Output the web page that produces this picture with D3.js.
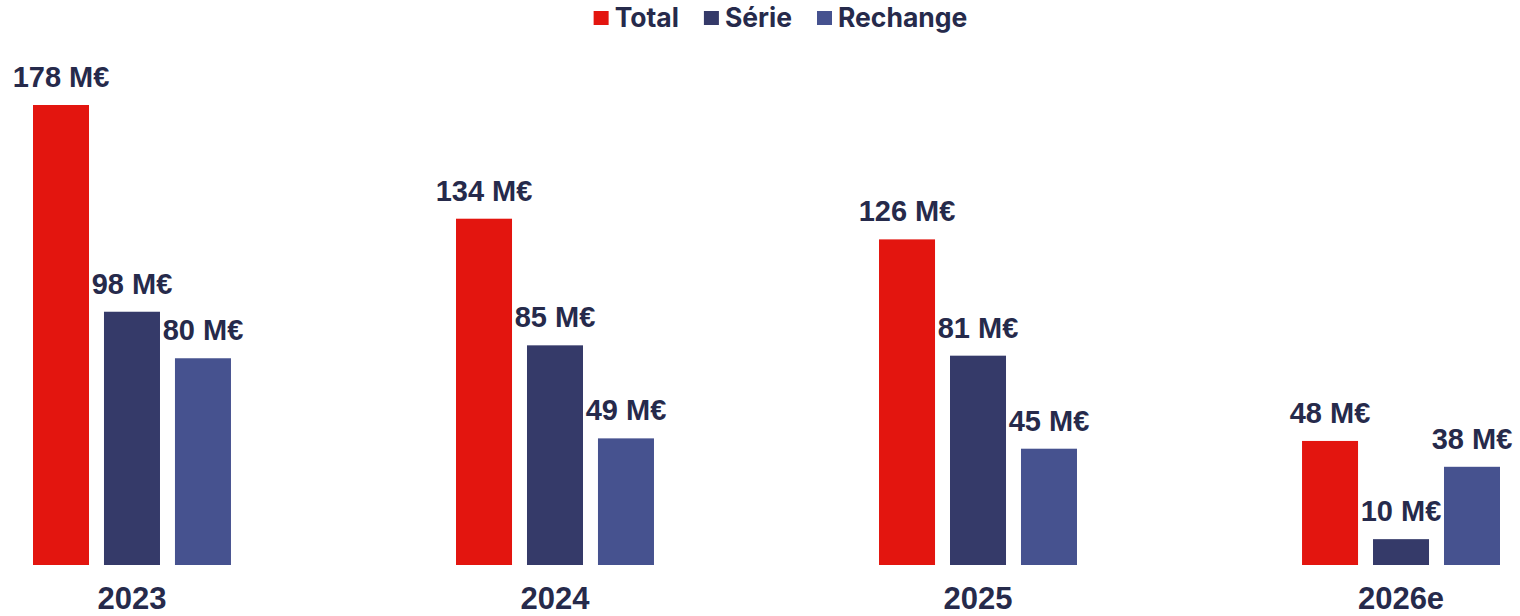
<!DOCTYPE html>
<html>
<head>
<meta charset="utf-8">
<script src="https://cdn.jsdelivr.net/npm/d3@7"></script>
<style>
  body { margin: 0; background: #fff; }
  .val, .year { font-family: "Liberation Sans", Arial, sans-serif; font-weight: 700; fill: #262a4b; }
  .legend text { font-family: Inter, "Open Sans", sans-serif; font-weight: 700; fill: #262a4b; }
</style>
</head>
<body>
<svg id="chart"></svg>
<script>
const years = ["2023", "2024", "2025", "2026e"];
const seriesNames = ["Total", "Série", "Rechange"];
const total = [178, 134, 126, 48];
const serie = [98, 85, 81, 10];
const rechange = [80, 49, 45, 38];
const colors = ["#e3150f", "#353a69", "#46528f"];

const chartSize = {width: 1520, height: 616};

const svg = d3.select("#chart")
  .attr("width", chartSize.width)
  .attr("height", chartSize.height);

const values = [total, serie, rechange];
const rows = years.map((yr, i) => ({
  year: yr,
  bars: seriesNames.map((s, j) => ({key: s, value: values[j][i], color: colors[j]}))
}));

const x0 = d3.scaleBand()
  .domain(years)
  .range([33, 1500])
  .paddingInner(0.532)
  .paddingOuter(0);

const x1 = d3.scaleBand()
  .domain(seriesNames)
  .range([0, x0.bandwidth()])
  .paddingInner(0.211);

const y = d3.scaleLinear()
  .domain([0, 178])
  .range([565, 105]);

const groups = svg.selectAll(".grp")
  .data(rows)
  .join("g")
  .attr("class", "grp")
  .attr("transform", d => `translate(${x0(d.year)},0)`);

groups.selectAll("rect")
  .data(d => d.bars)
  .join("rect")
  .attr("x", b => x1(b.key))
  .attr("y", b => y(b.value))
  .attr("width", x1.bandwidth())
  .attr("height", b => y(0) - y(b.value))
  .attr("fill", b => b.color);

groups.selectAll(".val")
  .data(d => d.bars)
  .join("text")
  .attr("class", "val")
  .attr("x", b => x1(b.key) + x1.bandwidth() / 2)
  .attr("y", b => y(b.value) - 18)
  .attr("text-anchor", "middle")
  .attr("font-size", 29)
  .text(b => `${b.value} M€`);

svg.selectAll(".year")
  .data(years)
  .join("text")
  .attr("class", "year")
  .attr("x", d => x0(d) + x0.bandwidth() / 2)
  .attr("y", 609)
  .attr("text-anchor", "middle")
  .attr("font-size", 31)
  .text(d => d);

// legend, laid out from measured text widths
const legend = svg.append("g").attr("class", "legend");
let lx = 0;
seriesNames.forEach((s, j) => {
  legend.append("rect")
    .attr("x", lx).attr("y", 11)
    .attr("width", 15).attr("height", 14)
    .attr("fill", colors[j]);
  const t = legend.append("text")
    .attr("x", lx + 21).attr("y", 27)
    .attr("font-size", 26.5)
    .text(s);
  lx += 21 + t.node().getComputedTextLength() + 25;
});
const legendW = lx - 25;
legend.attr("transform", `translate(${780.5 - legendW / 2},0)`);
</script>
</body>
</html>
